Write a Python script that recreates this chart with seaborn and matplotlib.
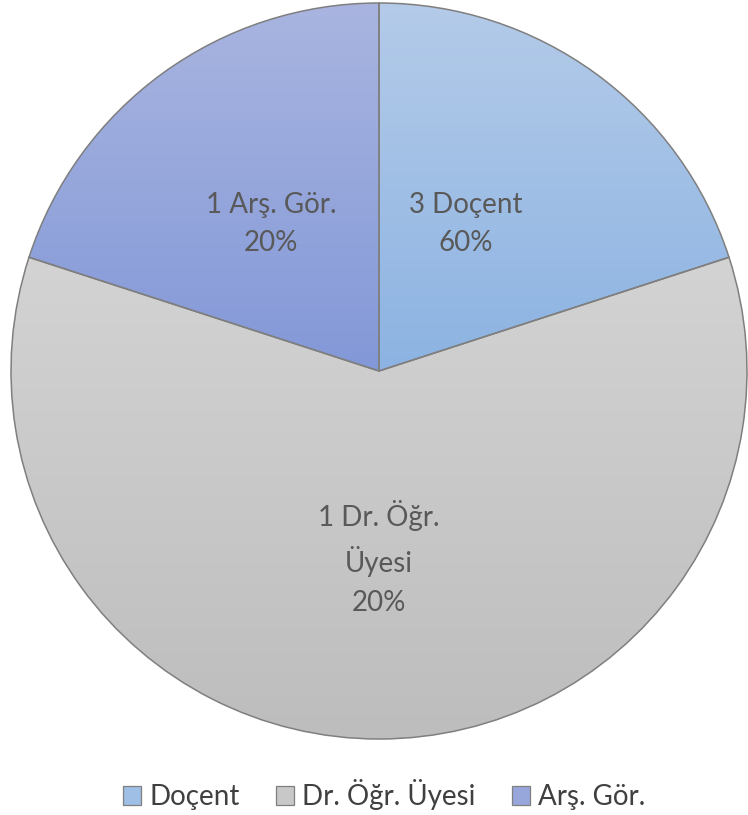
import numpy as np
import matplotlib.pyplot as plt
import seaborn as sns
from matplotlib.colors import LinearSegmentedColormap
from matplotlib.patches import Patch

# slice sizes as drawn, and the label texts as written in the chart
categories = ['Doçent', 'Dr. Öğr. Üyesi', 'Arş. Gör.']
slice_values = [1, 3, 1]
label_counts = [3, 1, 1]
label_percents = [60, 20, 20]
label_names = ['Doçent', 'Dr. Öğr.\nÜyesi', 'Arş. Gör.']
label_pos = [(0.236, 0.40), (0.0, -0.508), (-0.293, 0.40)]

top_colors = ['#b4cbe9', '#d3d3d3', '#a9b5e0']
bottom_colors = ['#8cb3e2', '#bdbdbd', '#8398d8']
mid_colors = ['#a0bfe6', '#c8c8c8', '#97a7dc']

sns.set_theme(style='white')
plt.rcParams['font.family'] = ['Lato', 'DejaVu Sans']

fig = plt.figure(figsize=(7.48, 8.15), dpi=100)
ax = fig.add_axes([11 / 748, 1 - 739 / 815, 736 / 748, 736 / 815])

wedges, _ = ax.pie(slice_values, startangle=90, counterclock=False, radius=1,
                   colors=mid_colors,
                   wedgeprops=dict(edgecolor='#7f7f7f', linewidth=1.1))

# vertical gradient in each slice
for w, c1, c2 in zip(wedges, top_colors, bottom_colors):
    bb = w.get_path().get_extents()
    cmap = LinearSegmentedColormap.from_list('g', [c2, c1])
    grad = np.linspace(0, 1, 256).reshape(-1, 1)
    im = ax.imshow(grad, cmap=cmap, origin='lower', aspect='auto',
                   extent=[bb.x0, bb.x1, bb.y0, bb.y1], zorder=w.get_zorder() - 0.1)
    im.set_clip_path(w)
    w.set_facecolor('none')

for cnt, name, pct, (x, y) in zip(label_counts, label_names, label_percents, label_pos):
    ax.text(x, y, f"{cnt} {name}\n{pct}%", ha='center', va='center',
            fontsize=20, color='#595959', linespacing=1.6)

ax.set_xlim(-1, 1)
ax.set_ylim(-1, 1)
ax.axis('off')

handles = [Patch(facecolor=c, edgecolor='#7f7f7f', linewidth=0.9) for c in mid_colors]
fig.legend(handles, categories, loc='center', bbox_to_anchor=(384 / 748, 0.025),
           ncol=3, frameon=False, fontsize=20, handlelength=0.65, handleheight=0.65,
           handletextpad=0.3, columnspacing=1.3, labelcolor='#404040',
           borderpad=0, borderaxespad=0)

fig.savefig('out.png', dpi=100)
